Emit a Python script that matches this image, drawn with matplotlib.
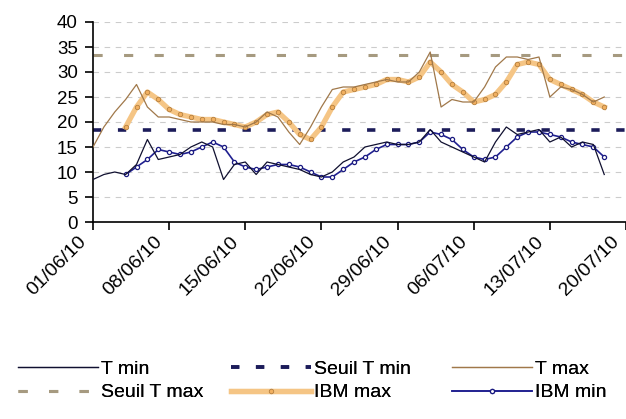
import matplotlib
matplotlib.use("Agg")
import matplotlib.pyplot as plt
import matplotlib.dates as mdates
import matplotlib.transforms as mtransforms
import pandas as pd
import numpy as np

plt.rcParams['font.family'] = ['Liberation Sans', 'DejaVu Sans']

# daily values, 01/06/10 -> 18/07/10
days = pd.date_range("2010-06-01", "2010-07-18", freq="D")

t_min = [8.5, 9.5, 10, 9.5, 11.5, 16.5, 12.5, 13, 13.5, 15,
         16, 15, 8.5, 11.5, 12, 9.5, 12, 11.5, 11, 10.5,
         9.5, 9, 10, 12, 13, 15, 15.5, 16, 15.5, 15.5,
         16, 18.5, 16, 15, 14, 13, 12, 16, 19, 17.5,
         18, 18.5, 16, 17, 15, 16, 15.5, 9.5]

t_max = [15, 19, 22, 24.5, 27.5, 23, 21, 21, 20.5, 20,
         20, 20, 19.5, 19.5, 19, 20, 22, 21, 18, 15.5,
         19, 23, 26.5, 27, 27, 27.5, 28, 28.5, 28, 28,
         30, 34, 23, 24.5, 24, 24, 27, 31, 33, 33,
         32.5, 33, 25, 27, 26.5, 25.5, 24, 25]

# IBM series start on 04/06/10
ibm_days = days[3:]
ibm_max = [19, 23, 26, 24.5, 22.5, 21.5, 21, 20.5, 20.5, 20,
           19.5, 19, 20, 21.5, 22, 20, 17.5, 16.5, 19, 23,
           26, 26.5, 27, 27.5, 28.5, 28.5, 28, 29, 32, 30,
           27.5, 26, 24, 24.5, 25.5, 28, 31.5, 32, 31.5, 28.5,
           27.5, 26.5, 25.5, 24, 23]
ibm_min = [9.5, 11, 12.5, 14.5, 14, 13.5, 14, 15, 16, 15,
           12, 11, 10.5, 11, 11.5, 11.5, 11, 10, 9, 9,
           10.5, 12, 13, 14.5, 15.5, 15.5, 15.5, 16, 18, 17.5,
           16.5, 14.5, 13, 12.5, 13, 15, 17, 18, 18, 17.5,
           17, 16, 15.5, 15, 13]

seuil_t_min = 18.3
seuil_t_max = 33.3

fig = plt.figure(figsize=(6.26, 4.19), dpi=100)
ax = fig.add_axes([93 / 626, 197 / 419, 533 / 626, 200 / 419])

ax.set_ylim(0, 40)
ax.set_yticks(np.arange(0, 41, 5))
ax.set_xlim(pd.Timestamp("2010-06-01"), pd.Timestamp("2010-07-20"))
ax.set_xticks(pd.date_range("2010-06-01", "2010-07-20", freq="7D"))
ax.xaxis.set_major_formatter(mdates.DateFormatter("%d/%m/%y"))

for v in range(5, 41, 5):
    ax.axhline(v, color='#cccccc', lw=0.8, dashes=(5, 5), zorder=0)

l_smax = ax.axhline(seuil_t_max, color='#a69a80', lw=2.2, dashes=(3, 7), zorder=1)
l_smin = ax.axhline(seuil_t_min, color='#1c1c5a', lw=2.6, dashes=(2.3, 4.6), zorder=1)

l_ibmmax, = ax.plot(ibm_days, ibm_max, color='#f5c585', lw=3.8, marker='o', ms=3.2,
                    mfc='#f2b060', mec='#b58040', mew=0.6, zorder=2)
l_tmax, = ax.plot(days, t_max, color='#a0784a', lw=0.9, zorder=3)
l_ibmmin, = ax.plot(ibm_days, ibm_min, color='#202090', lw=1.2, marker='o', ms=3.0,
                    mfc='white', mec='#1a1a80', mew=0.9, zorder=4)
l_tmin, = ax.plot(days, t_min, color='#101030', lw=0.9, zorder=5)

ax.spines['top'].set_visible(False)
ax.spines['right'].set_visible(False)
ax.spines['left'].set_linewidth(1.2)
ax.spines['bottom'].set_linewidth(1.2)
ax.tick_params(axis='both', direction='out', length=6, width=1.2, labelsize=13.5)
ax.tick_params(axis='y', pad=5)

shift = mtransforms.ScaledTranslation(-9 / 100, -4 / 100, fig.dpi_scale_trans)
for lab in ax.get_xticklabels():
    lab.set_rotation(45)
    lab.set_ha('right')
    lab.set_va('center')
    lab.set_rotation_mode('anchor')
    lab.set_fontsize(14)
    lab.set_transform(lab.get_transform() + shift)

# legend: three columns placed like the reference
cols = [([l_tmin, l_smax], ['T min', 'Seuil T max'], 18),
        ([l_smin, l_ibmmax], ['Seuil T min', 'IBM max'], 231),
        ([l_tmax, l_ibmmin], ['T max', 'IBM min'], 452)]
for hs, ls, x0 in cols:
    leg = fig.legend(hs, ls, loc='lower left', bbox_to_anchor=(x0 / 626, 0.042),
                     frameon=False, fontsize=14, handlelength=4.1, handletextpad=0.15,
                     labelspacing=0.3, borderaxespad=0, borderpad=0)
    fig.add_artist(leg)

fig.savefig("out.png", dpi=100)
